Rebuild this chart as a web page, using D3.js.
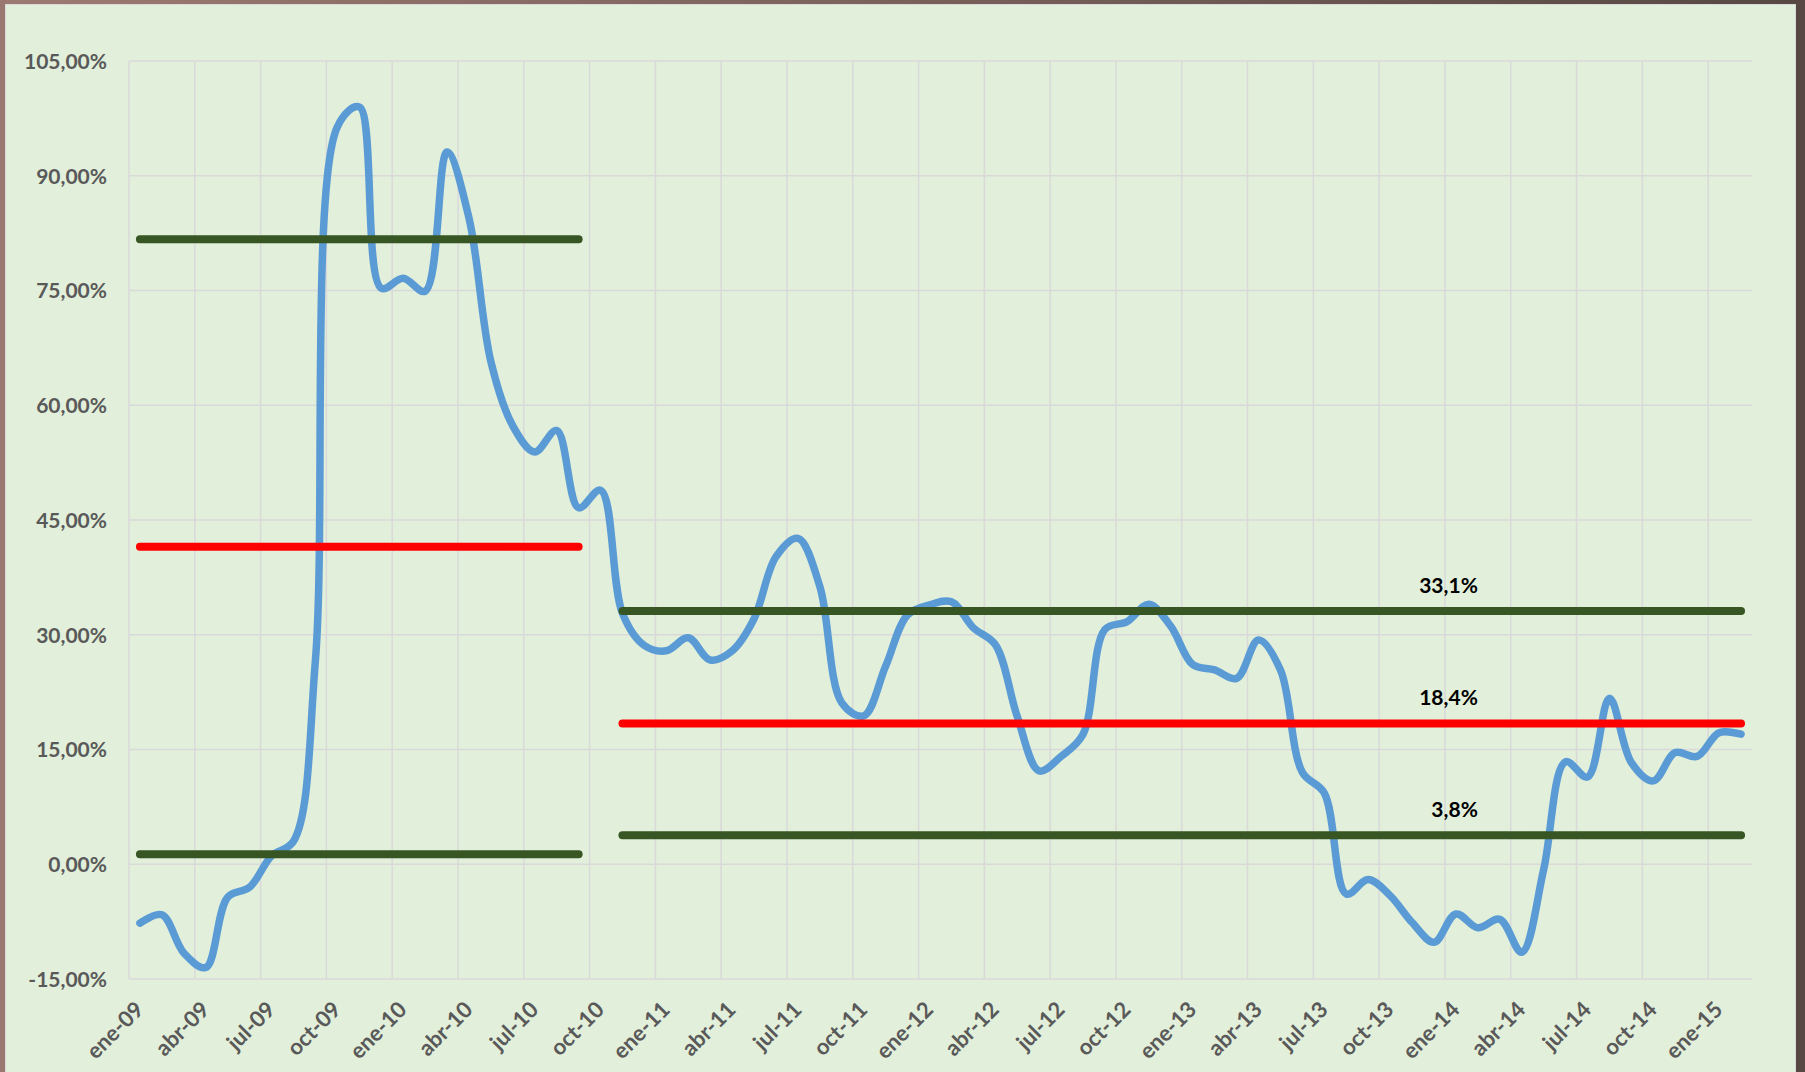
<!DOCTYPE html>
<html>
<head>
<meta charset="utf-8">
<script src="https://cdn.jsdelivr.net/npm/d3@7"></script>
<style>
  html, body { margin: 0; padding: 0; background: #574843; }
  svg { display: block; }
  .tick-label { font-family: Lato, 'Open Sans', sans-serif; font-weight: 700; font-size: 21px; fill: #595959; }
  .x-label { font-size: 22px; }
  .band-label { font-family: Lato, 'Open Sans', sans-serif; font-weight: 700; font-size: 21px; fill: #000; }
</style>
</head>
<body>
<div id="chart"></div>
<script>
// month names (Spanish) and the years covered, ene-09 .. feb-15
const monthNames = ['ene', 'feb', 'mar', 'abr', 'may', 'jun', 'jul', 'ago', 'sep', 'oct', 'nov', 'dic'];
const years = ['09', '10', '11', '12', '13', '14', '15'];
const categories = [];
years.forEach((yy) => monthNames.forEach((m) => categories.push(`${m}-${yy}`)));
categories.splice(74); // last one is feb-15

// yearly change, in %
const values = [
    -7.7, -6.6, -11.6, -13.5, -4.3, -3.0, 1.1, 3.0, 26.7, 96.4, 99.0, 75.3,
    76.6, 74.9, 93.1, 84.5, 65.7, 57.3, 53.9, 56.7, 46.6, 48.9, 32.8, 28.6,
    27.9, 29.6, 26.7, 27.9, 32.1, 40.2, 42.6, 36.3, 21.1, 19.4, 25.9, 32.6,
    33.9, 34.3, 30.9, 28.7, 19.3, 12.2, 14.1, 17.0, 30.7, 31.7, 34.0, 31.1,
    26.1, 25.4, 24.3, 29.3, 25.4, 12.0, 9.3, -3.9, -2.0, -4.1, -7.6, -10.2,
    -6.5, -8.3, -7.2, -11.5, -0.7, 13.4, 11.4, 21.7, 13.3, 10.9, 14.6, 14.1,
    17.2, 17.0
];

// two periods, each with upper band, mean and lower band
const bandStart = ['ene-09', 'nov-10'];
const bandEnd = ['sep-10', 'feb-15'];
const upperBand = [81.7, 33.1];
const meanBand = [41.5, 18.4];
const lowerBand = [1.3, 3.8];
const bandLabelAt = 'feb-14';

const yTicks = [-15, 0, 15, 30, 45, 60, 75, 90, 105];
const tickEvery = 3;

const width = 1805, height = 1072;
const plot = { left: 129, right: 1752, top: 61, bottom: 979 };

const locale = d3.formatLocale({ decimal: ',', thousands: '.', grouping: [3], currency: ['', '€'], minus: '-' });
const fmtAxis = (v) => locale.format('.2f')(v) + '%';
const fmtBand = (v) => locale.format('.1f')(v) + '%';

const svg = d3.select('#chart').append('svg')
    .attr('width', width)
    .attr('height', height);

// frame around the chart (screenshot border)
const defs = svg.append('defs');
const grad = defs.append('linearGradient').attr('id', 'frameTop');
grad.append('stop').attr('offset', '0%').attr('stop-color', '#9c7a72');
grad.append('stop').attr('offset', '100%').attr('stop-color', '#574843');
svg.append('rect').attr('width', width).attr('height', height).attr('fill', '#574843');
svg.append('rect').attr('width', width).attr('height', 5).attr('fill', 'url(#frameTop)');
svg.append('rect').attr('width', 6).attr('height', height).attr('fill', '#9a7770');

// chart area
svg.append('rect')
    .attr('x', 5.5).attr('y', 4.5)
    .attr('width', 1790).attr('height', height)
    .attr('fill', '#e2efda')
    .attr('stroke', '#d9d9d9');

const x = d3.scaleBand().domain(categories).range([plot.left, plot.right]);
const y = d3.scaleLinear().domain([-15, 105]).range([plot.bottom, plot.top]);
const cx = (c) => x(c) + x.bandwidth() / 2;

const tickCats = categories.filter((c, i) => i % tickEvery === 0);

// gridlines
const grid = svg.append('g').attr('stroke', '#d9d9d9').attr('stroke-width', 1.5);
grid.selectAll('line.h')
    .data(yTicks)
    .enter()
    .append('line')
    .attr('x1', plot.left).attr('x2', plot.right)
    .attr('y1', (d) => y(d)).attr('y2', (d) => y(d));
grid.selectAll('line.v')
    .data(tickCats)
    .enter()
    .append('line')
    .attr('x1', (d) => x(d)).attr('x2', (d) => x(d))
    .attr('y1', plot.top).attr('y2', plot.bottom);

// y axis labels
const yAxis = svg.append('g')
    .attr('transform', `translate(${plot.left - 22},0)`)
    .call(d3.axisLeft(y).tickValues(yTicks).tickFormat(fmtAxis).tickSize(0));
yAxis.select('.domain').remove();
yAxis.selectAll('text').attr('class', 'tick-label').attr('dy', '0.35em').attr('x', 0);

// x axis labels, rotated
const xAxis = svg.append('g')
    .attr('transform', `translate(0,${plot.bottom})`)
    .call(d3.axisBottom(x).tickValues(tickCats).tickSize(0));
xAxis.select('.domain').remove();
xAxis.selectAll('text')
    .attr('class', 'tick-label x-label')
    .attr('text-anchor', 'end')
    .attr('y', 0)
    .attr('dy', 0)
    .attr('transform', 'translate(5,32) rotate(-45)');

// series line
const line = d3.line()
    .x((d, i) => cx(categories[i]))
    .y((d) => y(d))
    .curve(d3.curveCatmullRom.alpha(0.5));

svg.append('path')
    .datum(values)
    .attr('d', line)
    .attr('fill', 'none')
    .attr('stroke', '#5b9bd5')
    .attr('stroke-width', 7.5)
    .attr('stroke-linecap', 'round')
    .attr('stroke-linejoin', 'round');

// bands
const bands = [
    { vals: upperBand, color: '#375623' },
    { vals: meanBand, color: '#ff0000' },
    { vals: lowerBand, color: '#375623' }
];
bands.forEach((b) => {
    svg.append('g')
        .selectAll('line')
        .data(b.vals)
        .enter()
        .append('line')
        .attr('x1', (d, i) => cx(bandStart[i]))
        .attr('x2', (d, i) => cx(bandEnd[i]))
        .attr('y1', (d) => y(d))
        .attr('y2', (d) => y(d))
        .attr('stroke', b.color)
        .attr('stroke-width', 8)
        .attr('stroke-linecap', 'round');

    // label only on the last period
    const last = b.vals.length - 1;
    svg.append('text')
        .attr('class', 'band-label')
        .attr('x', cx(bandLabelAt))
        .attr('y', y(b.vals[last]) - 18)
        .attr('text-anchor', 'end')
        .text(fmtBand(b.vals[last]));
});
</script>
</body>
</html>
